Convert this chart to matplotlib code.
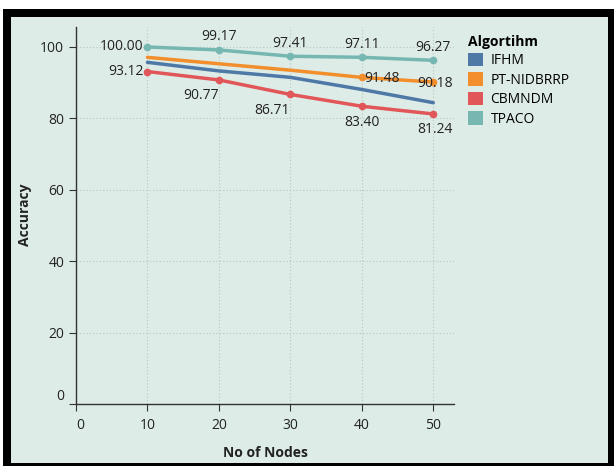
'''
Accuracy vs number of nodes for four algorithms
'''
import matplotlib
matplotlib.use('Agg')
import matplotlib.pyplot as plt
from matplotlib.patches import Rectangle, Patch

# ---------------------------------
nodes      = [10, 20, 30, 40, 50]
algorithms = ['IFHM', 'PT-NIDBRRP', 'CBMNDM', 'TPACO']

acc_ifhm   = [95.7, 93.3, 91.5, 88.1, 84.4]
acc_ptnid  = [97.1, 95.3, 93.5, 91.48, 90.18]
acc_cbmndm = [93.12, 90.77, 86.71, 83.40, 81.24]
acc_tpaco  = [100.00, 99.17, 97.41, 97.11, 96.27]

# which points carry a marker + value label
lab_ptnid  = [False, False, False, True, True]
lab_cbmndm = [True, True, True, True, True]
lab_tpaco  = [True, True, True, True, True]

colors = {'IFHM' : '#4e79a7', 'PT-NIDBRRP' : '#f28e2b', 'CBMNDM' : '#e15759', 'TPACO' : '#76b7b2'}
bg     = '#deece8'
txt    = '#222222'

plt.rcParams['font.family'] = ['Open Sans', 'DejaVu Sans']
plt.rcParams['font.size']   = 10
# ---------------------------------
fig = plt.figure(figsize=(6.14, 4.66), dpi=100, facecolor='white')
W, H = 614, 466
fig.patches.append(Rectangle((3 / W, 0), 1 - 3 / W, (H - 9) / H, transform=fig.transFigure,
                             facecolor='black', edgecolor='none', zorder=-10))
fig.patches.append(Rectangle((11 / W, 3 / H), (608 - 11) / W, (449 - 3) / H, transform=fig.transFigure,
                             facecolor=bg, edgecolor='none', zorder=-9))

ax = fig.add_axes([76 / W, 1 - 404 / H, (454 - 76) / W, (404 - 27) / H])
ax.set_facecolor('none')

ax.set_xlim(0, 52.9)
ax.set_ylim(0, 105.6)
ax.set_xticks([0, 10, 20, 30, 40, 50])
ax.set_yticks([0, 20, 40, 60, 80, 100])
ax.grid(True, linestyle=(0, (1, 2)), color='#b8c4c0', linewidth=0.8)
ax.set_axisbelow(True)
for side in ['top', 'right']:
    ax.spines[side].set_visible(False)
for side in ['left', 'bottom']:
    ax.spines[side].set_color('#333333')
    ax.spines[side].set_linewidth(1.0)
ax.tick_params(colors='#333333', labelcolor=txt, length=5, labelsize=10)
ax.tick_params(axis='x', pad=5)

# flush end labels like the original
ax.get_yticklabels()[0].set_va('bottom')
ax.get_xticklabels()[0].set_ha('left')

series = [('IFHM', acc_ifhm, None),
          ('PT-NIDBRRP', acc_ptnid, lab_ptnid),
          ('CBMNDM', acc_cbmndm, lab_cbmndm),
          ('TPACO', acc_tpaco, lab_tpaco)]

for name, vals, labs in series:
    ax.plot(nodes, vals, color=colors[name], linewidth=2.5, solid_capstyle='round', zorder=3)
    if labs is None:
        continue
    xs = [x for x, f in zip(nodes, labs) if f]
    ys = [y for y, f in zip(vals, labs) if f]
    ax.plot(xs, ys, 'o', color=colors[name], markersize=4.5, zorder=4)

# label placement per point: (dx, dy, ha, va) in points
off_tpaco  = [(-3, 0, 'right', 'center'), (0, 4, 'center', 'bottom'), (0, 4, 'center', 'bottom'),
              (0, 4, 'center', 'bottom'), (0, 4, 'center', 'bottom')]
off_cbmndm = [(-3, 0, 'right', 'center'), (-13, -6, 'center', 'top'), (-13, -6, 'center', 'top'),
              (0, -6, 'center', 'top'), (1, -6, 'center', 'top')]
off_ptnid  = [None, None, None, (2, -1, 'left', 'center'), (1, -1, 'center', 'center')]

for vals, labs, offs in [(acc_tpaco, lab_tpaco, off_tpaco), (acc_cbmndm, lab_cbmndm, off_cbmndm),
                         (acc_ptnid, lab_ptnid, off_ptnid)]:
    for x, y, f, o in zip(nodes, vals, labs, offs):
        if not f:
            continue
        dx, dy, ha, va = o
        ax.annotate(f'{y:.2f}', (x, y), xytext=(dx, dy), textcoords='offset points',
                    ha=ha, va=va, fontsize=10, color=txt, zorder=5)

ax.set_xlabel('No of Nodes', fontweight='bold', fontsize=10, color=txt)
ax.set_ylabel('Accuracy', fontweight='bold', fontsize=10, color=txt)
ax.xaxis.set_label_coords((265 - 76) / (454 - 76), -(446 - 404) / (404 - 27))
ax.yaxis.set_label_coords(-(76 - 32) / (454 - 76), (404 - 215) / (404 - 27))

handles = [Patch(facecolor=colors[a], edgecolor='none') for a in algorithms]
leg = fig.legend(handles, algorithms, title='Algortihm', loc='upper left',
                 bbox_to_anchor=(462 / W, 1 - 29 / H), frameon=False, fontsize=10,
                 handlelength=1.1, handleheight=1.1, handletextpad=0.55, labelspacing=0.3,
                 alignment='left', borderaxespad=0)
leg.get_title().set_fontweight('bold')
leg.get_title().set_fontsize(10)

fig.savefig('out.png', dpi=100, facecolor='white')
